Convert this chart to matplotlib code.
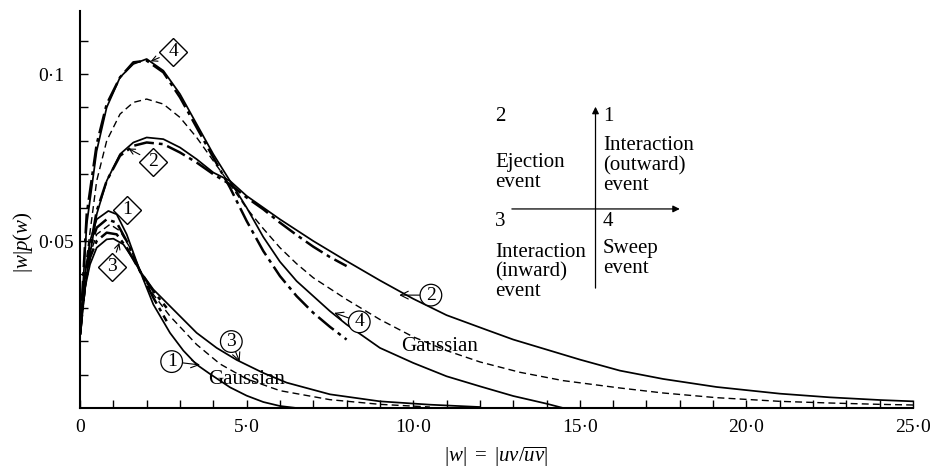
import matplotlib

matplotlib.use("Agg")
import matplotlib.pyplot as plt

plt.rcParams["font.family"] = ["Liberation Serif", "DejaVu Serif"]
plt.rcParams["mathtext.fontset"] = "custom"
plt.rcParams["mathtext.rm"] = "Liberation Serif"
plt.rcParams["mathtext.it"] = "Liberation Serif:italic"

# --- quadrants 2 and 4 (large |w|p(w)) ---
q4_x = [0, 0.2, 0.5, 0.8, 1.2, 1.6, 2.0, 2.5, 3.0, 3.5, 4.0, 4.5, 5.0, 5.5, 6.0,
        6.5, 7.0, 7.5, 8.0, 9.0, 10.0, 11.0, 12.0, 13.0, 14.0, 14.5]
q4_y = [0.022, 0.055, 0.077, 0.090, 0.099, 0.103, 0.1045, 0.101, 0.094, 0.085,
        0.076, 0.068, 0.060, 0.0512, 0.0438, 0.038, 0.0335, 0.029, 0.025,
        0.018, 0.0135, 0.0095, 0.0065, 0.0036, 0.0013, 0.0]

q4dd_x = [0, 0.2, 0.5, 0.8, 1.2, 1.6, 2.0, 2.5, 3.0, 3.5, 4.0, 4.5, 5.0, 5.5,
          6.0, 6.5, 7.0, 7.5, 8.0]
q4dd_y = [0.022, 0.058, 0.079, 0.091, 0.099, 0.1035, 0.104, 0.1005, 0.093,
          0.084, 0.075, 0.066, 0.056, 0.047, 0.0395, 0.0335, 0.0285, 0.0243,
          0.0205]

gauss24_x = [0, 0.2, 0.5, 0.8, 1.2, 1.6, 2.0, 2.5, 3.0, 3.5, 4.0, 4.5, 5.0, 5.5,
             6.0, 6.5, 7.0, 8.0, 9.0, 10.0, 11.0, 12.0, 13.2, 14.5, 16.2, 17.5,
             19.1, 21.0, 22.5, 24.0, 25.0]
gauss24_y = [0.022, 0.045, 0.068, 0.080, 0.088, 0.0915, 0.0925, 0.091, 0.087,
             0.081, 0.074, 0.067, 0.0598, 0.0537, 0.048, 0.0432, 0.039, 0.0325,
             0.0265, 0.0213, 0.0172, 0.0138, 0.0107, 0.0082, 0.006, 0.0045,
             0.0031, 0.002, 0.0015, 0.0011, 0.0009]

q2_x = [0, 0.2, 0.5, 0.8, 1.2, 1.6, 2.0, 2.5, 3.0, 3.5, 4.0, 4.5, 5.0, 6.0, 7.0,
        8.0, 9.0, 10.0, 11.0, 12.2, 13.0, 14.0, 15.0, 16.2, 17.5, 19.1, 21.0,
        22.5, 24.0, 25.0]
q2_y = [0.022, 0.040, 0.058, 0.068, 0.076, 0.0795, 0.081, 0.0805, 0.078,
        0.0745, 0.0705, 0.068, 0.0635, 0.0565, 0.050, 0.044, 0.0382, 0.0327,
        0.0278, 0.0234, 0.0205, 0.0175, 0.0145, 0.0112, 0.0087, 0.0063,
        0.0043, 0.0032, 0.0024, 0.002]

q2dd_x = [0, 0.2, 0.5, 0.8, 1.2, 1.6, 2.0, 2.5, 3.0, 3.5, 4.0, 4.5, 5.0, 5.5,
          6.0, 6.5, 7.0, 7.5, 8.0]
q2dd_y = [0.022, 0.042, 0.059, 0.068, 0.0755, 0.0785, 0.0795, 0.079, 0.0765,
          0.0735, 0.070, 0.067, 0.063, 0.0595, 0.0555, 0.0518, 0.0483, 0.0452,
          0.0425]

# --- quadrants 1 and 3 (small |w|p(w)) ---
q1_x = [0, 0.15, 0.3, 0.5, 0.85, 1.1, 1.4, 1.8, 2.2, 2.7, 3.1, 3.5, 3.9, 4.5,
        5.0, 5.5, 6.0, 6.5]
q1_y = [0.022, 0.040, 0.050, 0.0565, 0.059, 0.058, 0.052, 0.041, 0.031, 0.0225,
        0.0172, 0.013, 0.0102, 0.0062, 0.0037, 0.0018, 0.0006, 0.0]

q1dd_x = [0, 0.15, 0.3, 0.5, 0.8, 1.1, 1.4, 1.8, 2.2, 2.6]
q1dd_y = [0.022, 0.039, 0.048, 0.054, 0.0565, 0.0555, 0.050, 0.041, 0.033, 0.026]

q3_x = [0, 0.15, 0.3, 0.5, 0.8, 1.0, 1.3, 1.6, 1.8, 2.2, 2.7, 3.5, 4.1, 4.7,
        5.5, 6.2, 7.5, 9.0, 10.5, 12.0]
q3_y = [0.022, 0.036, 0.043, 0.048, 0.0505, 0.0507, 0.049, 0.0445, 0.041,
        0.0355, 0.0305, 0.0225, 0.018, 0.0144, 0.0105, 0.0076, 0.0041, 0.002,
        0.001, 0.0003]

q3dd_x = [0, 0.15, 0.3, 0.5, 0.8, 1.1, 1.4, 1.8, 2.2, 2.6]
q3dd_y = [0.022, 0.037, 0.045, 0.050, 0.0525, 0.052, 0.048, 0.041, 0.035, 0.030]

gauss13_x = [0, 0.15, 0.3, 0.5, 0.9, 1.2, 1.5, 1.8, 2.2, 2.7, 3.5, 4.2, 5.0,
             6.0, 7.5, 9.0, 10.5]
gauss13_y = [0.022, 0.038, 0.046, 0.052, 0.055, 0.053, 0.048, 0.041, 0.034,
             0.0275, 0.019, 0.0132, 0.0087, 0.0052, 0.0025, 0.0011, 0.0003]

x_ticks = [0, 5, 10, 15, 20, 25]
x_tick_labels = ["0", "5·0", "10·0", "15·0", "20·0", "25·0"]
y_ticks = [0.05, 0.1]
y_tick_labels = ["0·05", "0·1"]

SOLID = dict(color="black", lw=1.25)
DASHDOT = dict(color="black", lw=1.8, dashes=(8, 2, 1.5, 2))
DASHED = dict(color="black", lw=1.0, dashes=(5, 3))


def circled(ax, label, xy, xytext):
    ax.annotate(label, xy=xy, xytext=xytext, fontsize=14, ha="center", va="center",
                bbox=dict(boxstyle="circle,pad=0.12", fc="white", ec="black", lw=0.9),
                arrowprops=dict(arrowstyle="->", lw=0.8, color="black",
                                shrinkA=0, shrinkB=0))


def diamond(ax, label, at, tip=None):
    ax.plot([at[0]], [at[1]], marker="D", ms=14.5, mfc="white", mec="black",
            mew=1.0, zorder=4)
    ax.text(at[0], at[1], label, fontsize=14, ha="center", va="center", zorder=5)
    if tip is not None:
        ax.annotate("", xy=tip, xytext=at,
                    arrowprops=dict(arrowstyle="->", lw=0.8, color="black",
                                    shrinkA=11, shrinkB=0))


def main():
    fig = plt.figure(figsize=(9.36, 4.74), dpi=100)
    ax = fig.add_axes([0.0855, 0.1392, 0.890, 0.8456])

    ax.plot(q4_x, q4_y, **SOLID)
    ax.plot(q4dd_x, q4dd_y, **DASHDOT)
    ax.plot(gauss24_x, gauss24_y, **DASHED)
    ax.plot(q2_x, q2_y, **SOLID)
    ax.plot(q2dd_x, q2dd_y, **DASHDOT)
    ax.plot(q1_x, q1_y, **SOLID)
    ax.plot(q1dd_x, q1dd_y, **DASHDOT)
    ax.plot(q3_x, q3_y, **SOLID)
    ax.plot(q3dd_x, q3dd_y, **DASHDOT)
    ax.plot(gauss13_x, gauss13_y, **DASHED)

    ax.set_xlim(0, 25)
    ax.set_ylim(0, 0.12)
    for side in ("top", "right"):
        ax.spines[side].set_visible(False)
    for side in ("left", "bottom"):
        ax.spines[side].set_linewidth(1.5)
    ax.spines["left"].set_bounds(0, 0.119)

    ax.set_xticks(x_ticks)
    ax.set_xticklabels(x_tick_labels, fontsize=14)
    ax.set_xticks(range(0, 26), minor=True)
    ax.set_yticks(y_ticks)
    ax.set_yticklabels(y_tick_labels, fontsize=14)
    ax.set_yticks([i / 100 for i in range(1, 12)], minor=True)
    ax.tick_params(which="both", direction="in", length=6, width=1.0)
    ax.tick_params(axis="x", pad=8)
    ax.tick_params(axis="y", pad=30)
    for lab in ax.get_yticklabels():
        lab.set_ha("left")

    ax.set_xlabel(r"$|w|\ =\ |uv/\overline{uv}|$", fontsize=15, labelpad=6)
    fig.text(0.025, 0.49, r"$|w|p(w)$", rotation=90, fontsize=15,
             ha="center", va="center")

    # curve labels
    diamond(ax, "4", (2.8, 0.1067), tip=(2.12, 0.1038))
    diamond(ax, "2", (2.2, 0.0737), tip=(1.45, 0.0777))
    diamond(ax, "1", (1.4, 0.0593))
    diamond(ax, "3", (0.95, 0.0423), tip=(1.18, 0.0495))
    circled(ax, "1", (3.6, 0.0129), (2.75, 0.0139))
    circled(ax, "3", (4.79, 0.0139), (4.54, 0.0199))
    circled(ax, "2", (9.58, 0.0338), (10.53, 0.0338))
    circled(ax, "4", (7.63, 0.0285), (8.38, 0.0258))
    ax.text(5.0, 0.0084, "Gaussian", fontsize=15, ha="center", va="center")
    ax.text(10.8, 0.0183, "Gaussian", fontsize=15, ha="center", va="center")

    # quadrant sketch
    ax.annotate("", xy=(15.47, 0.0902), xytext=(15.47, 0.0359),
                arrowprops=dict(arrowstyle="-|>", lw=0.9, color="black",
                                mutation_scale=10, shrinkA=0, shrinkB=0))
    ax.annotate("", xy=(18.0, 0.0596), xytext=(12.96, 0.0596),
                arrowprops=dict(arrowstyle="-|>", lw=0.9, color="black",
                                mutation_scale=10, shrinkA=0, shrinkB=0))
    txt = dict(fontsize=15, ha="left", va="center", linespacing=1.05)
    ax.text(12.46, 0.0872, "2", **txt)
    ax.text(15.69, 0.0872, "1", **txt)
    ax.text(12.46, 0.0706, "Ejection\nevent", **txt)
    ax.text(15.69, 0.0726, "Interaction\n(outward)\nevent", **txt)
    ax.text(12.46, 0.0558, "3", **txt)
    ax.text(15.69, 0.0558, "4", **txt)
    ax.text(12.46, 0.0407, "Interaction\n(inward)\nevent", **txt)
    ax.text(15.69, 0.0448, "Sweep\nevent", **txt)

    fig.savefig("out.png", dpi=100)


if __name__ == "__main__":
    main()
